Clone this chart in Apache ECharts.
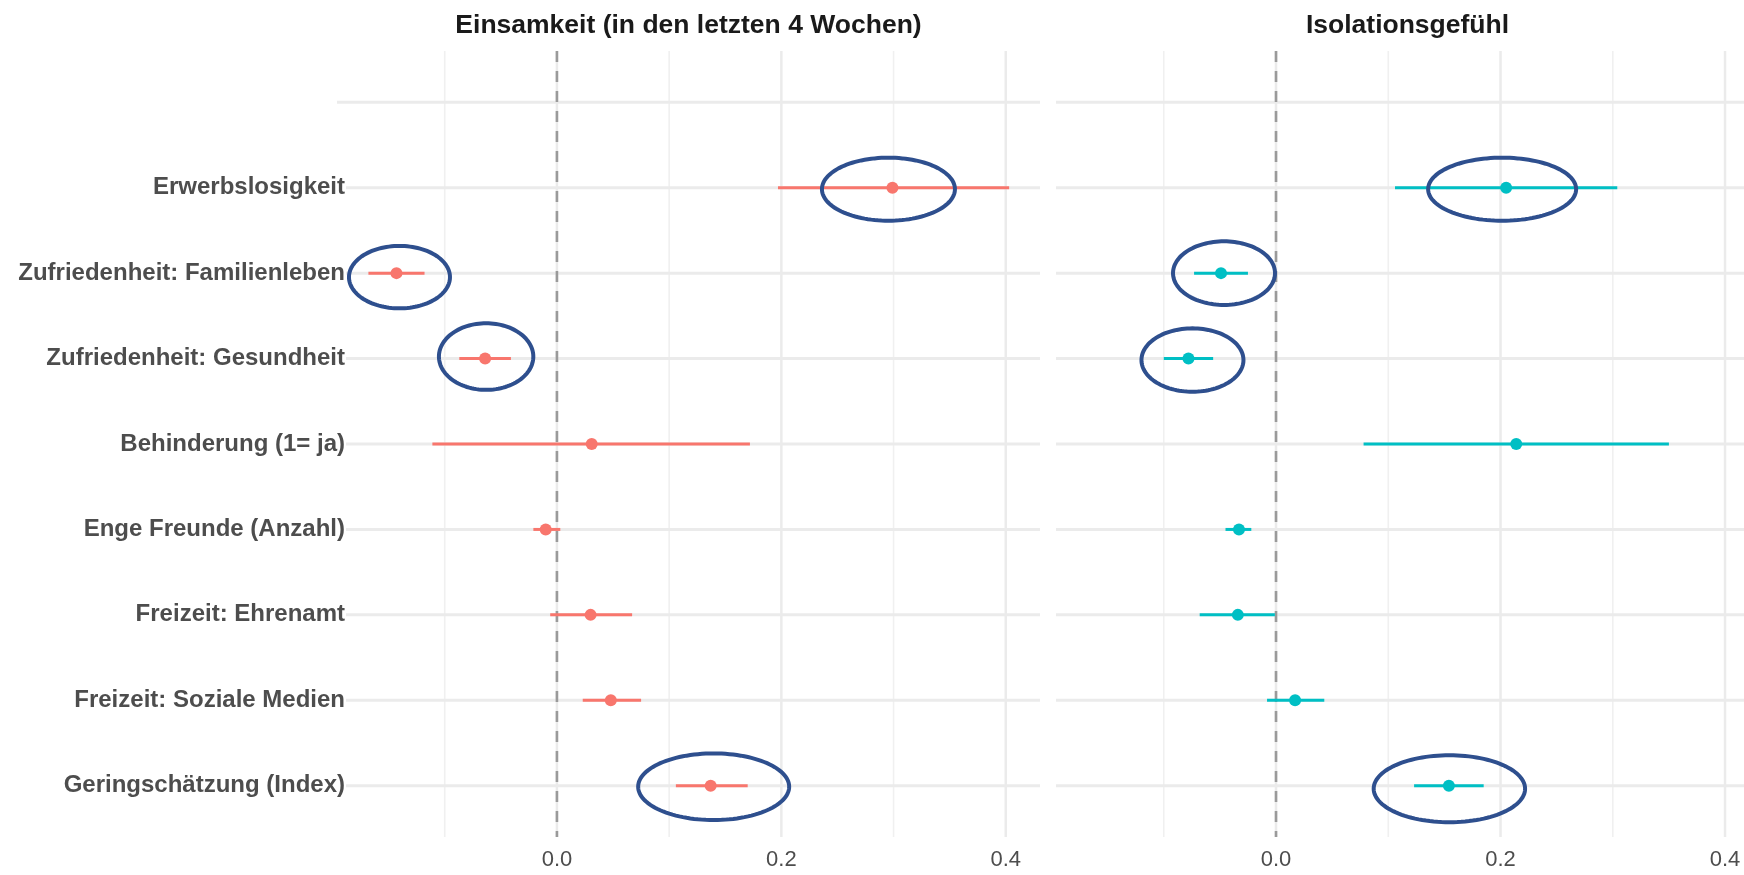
<!DOCTYPE html>
<html>
<head>
<meta charset="utf-8">
<title>Einsamkeit und Isolationsgefühl</title>
<script src="https://cdn.jsdelivr.net/npm/echarts@6/dist/echarts.min.js"></script>
<style>
  html, body { margin: 0; padding: 0; background: #ffffff; }
  #chart { width: 1744px; height: 875px; }
</style>
</head>
<body>
<div id="chart"></div>
<script>
// Predictors, listed top to bottom
const categories = [
  'Erwerbslosigkeit',
  'Zufriedenheit: Familienleben',
  'Zufriedenheit: Gesundheit',
  'Behinderung (1= ja)',
  'Enge Freunde (Anzahl)',
  'Freizeit: Ehrenamt',
  'Freizeit: Soziale Medien',
  'Geringschätzung (Index)'
];

const panelTitles = ['Einsamkeit (in den letzten 4 Wochen)', 'Isolationsgefühl'];

// Coefficients with confidence bounds: Einsamkeit
const einsamkeitEstimate = [0.299, -0.143, -0.064, 0.031, -0.010, 0.030, 0.048, 0.137];
const einsamkeitLower    = [0.197, -0.168, -0.087, -0.111, -0.021, -0.006, 0.023, 0.106];
const einsamkeitUpper    = [0.403, -0.118, -0.041, 0.172, 0.003, 0.067, 0.075, 0.170];

// Coefficients with confidence bounds: Isolationsgefühl
const isolationEstimate = [0.205, -0.049, -0.078, 0.214, -0.033, -0.034, 0.017, 0.154];
const isolationLower    = [0.106, -0.073, -0.100, 0.078, -0.045, -0.068, -0.008, 0.123];
const isolationUpper    = [0.304, -0.025, -0.056, 0.350, -0.022, -0.001, 0.043, 0.185];

// Axis ticks
const xTickLabels = [0, 0.2, 0.4];
const xMinorGrid = [-0.1, 0.1, 0.3];
const xMajorGrid = [0, 0.2, 0.4];

// Predictors circled in both panels
const circled = [
  'Erwerbslosigkeit',
  'Zufriedenheit: Familienleben',
  'Zufriedenheit: Gesundheit',
  'Geringschätzung (Index)'
];

// ---- styling ----
const FONT = "'Liberation Sans', Arial, Helvetica, sans-serif";
const GRID_COLOR = '#EBEBEB';
const TEXT_COLOR = '#4D4D4D';
const RING_COLOR = '#2E4F8E';
const SERIES_COLORS = ['#F8766D', '#00BFC4'];
const X_MIN = -0.196;
// the right panel runs off the page edge, so its visible range stops earlier
const X_MAX = [0.4305, 0.4169];
// ring shape per panel, keyed by predictor: [rx, ry, dx, dy] in pixels
const ringShape = [
  {
    'Erwerbslosigkeit': [66.5, 31.5, -4, 1.5],
    'Zufriedenheit: Familienleben': [50.5, 31.2, 3, 4],
    'Zufriedenheit: Gesundheit': [47.2, 33.3, 1, -2],
    'Geringschätzung (Index)': [75.5, 33.3, 3, 1]
  },
  {
    'Erwerbslosigkeit': [74, 31.5, -4, 1.5],
    'Zufriedenheit: Familienleben': [51, 31.8, 3, 0],
    'Zufriedenheit: Gesundheit': [51, 31.7, 4, 1.5],
    'Geringschätzung (Index)': [75.7, 33.5, 0.5, 3]
  }
];

// row position: slot 0 is an empty row at the top
const rowOf = i => i + 1;
const rowSlots = [0].concat(categories.map((c, i) => rowOf(i)));

const panels = [
  { est: einsamkeitEstimate, lo: einsamkeitLower, hi: einsamkeitUpper },
  { est: isolationEstimate, lo: isolationLower, hi: isolationUpper }
];

const grids = [
  { left: 337, top: 51, width: 703, height: 786 },
  { left: 1056, top: 51, width: 688, height: 786 }
];

const xAxes = grids.map((g, k) => ({
  type: 'value', gridIndex: k, min: X_MIN, max: X_MAX[k],
  axisLine: { show: false }, axisTick: { show: false }, splitLine: { show: false },
  axisLabel: {
    customValues: xTickLabels,
    formatter: v => v.toFixed(1),
    fontFamily: FONT, fontSize: 22, color: TEXT_COLOR, margin: 12
  }
}));

const yAxes = grids.map((g, k) => ({
  type: 'value', gridIndex: k, inverse: true, min: -0.6, max: 8.6, z: 3,
  axisLine: { show: false }, axisTick: { show: false }, splitLine: { show: false },
  axisLabel: k === 0 ? {
    customValues: categories.map((c, i) => rowOf(i)),
    formatter: v => categories[Math.round(v) - 1] || '',
    fontFamily: FONT, fontSize: 24, fontWeight: 'bold', color: TEXT_COLOR,
    margin: -9, backgroundColor: '#ffffff', padding: [2, 1, 2, 0]
  } : { show: false }
}));

const series = [];

panels.forEach((p, k) => {
  // background grid lines
  const gridItems = []
    .concat(xMinorGrid.map(v => [v, 0]))
    .concat(xMajorGrid.map(v => [v, 1]))
    .concat(rowSlots.map(r => [r, 2]));
  series.push({
    type: 'custom', xAxisIndex: k, yAxisIndex: k, z: 1, silent: true,
    data: gridItems,
    renderItem: (params, api) => {
      const cs = params.coordSys;
      const v = api.value(0), kind = api.value(1);
      if (kind === 2) {
        const y = api.coord([X_MIN, v])[1];
        return { type: 'line', shape: { x1: cs.x, y1: y, x2: cs.x + cs.width, y2: y },
          style: { stroke: GRID_COLOR, lineWidth: 3 } };
      }
      const x = api.coord([v, 0])[0];
      return { type: 'line', shape: { x1: x, y1: cs.y, x2: x, y2: cs.y + cs.height },
        style: { stroke: kind === 1 ? GRID_COLOR : '#F0F0F0', lineWidth: kind === 1 ? 2.5 : 1.6 } };
    }
  });

  // dashed reference line at zero
  series.push({
    type: 'custom', xAxisIndex: k, yAxisIndex: k, z: 2, silent: true,
    data: [[0]],
    renderItem: (params, api) => {
      const cs = params.coordSys;
      const x = api.coord([api.value(0), 0])[0];
      return { type: 'line', shape: { x1: x, y1: cs.y, x2: x, y2: cs.y + cs.height },
        style: { stroke: '#9A9A9A', lineWidth: 2.6, lineDash: [11, 9] } };
    }
  });

  // confidence intervals
  series.push({
    type: 'custom', xAxisIndex: k, yAxisIndex: k, z: 4, silent: true,
    data: categories.map((c, i) => [p.lo[i], p.hi[i], rowOf(i)]),
    encode: { x: [0, 1], y: 2 },
    renderItem: (params, api) => {
      const a = api.coord([api.value(0), api.value(2)]);
      const b = api.coord([api.value(1), api.value(2)]);
      return { type: 'line', shape: { x1: a[0], y1: a[1], x2: b[0], y2: b[1] },
        style: { stroke: SERIES_COLORS[k], lineWidth: 3 } };
    }
  });

  // point estimates
  series.push({
    type: 'scatter', xAxisIndex: k, yAxisIndex: k, z: 5, silent: true,
    symbol: 'circle', symbolSize: 12,
    itemStyle: { color: SERIES_COLORS[k], opacity: 1 },
    data: categories.map((c, i) => [p.est[i], rowOf(i)])
  });

  // rings around the highlighted predictors
  series.push({
    type: 'custom', xAxisIndex: k, yAxisIndex: k, z: 6, silent: true,
    data: circled.map(c => {
      const i = categories.indexOf(c);
      return [p.est[i], rowOf(i), i];
    }),
    renderItem: (params, api) => {
      const c = api.coord([api.value(0), api.value(1)]);
      const s = ringShape[k][categories[api.value(2)]];
      const cx = c[0] + s[2], cy = c[1] + s[3];
      const pts = [];
      for (let t = 0; t < 120; t++) {
        const ang = t / 120 * Math.PI * 2;
        pts.push([cx + s[0] * Math.cos(ang), cy + s[1] * Math.sin(ang)]);
      }
      return { type: 'polygon', shape: { points: pts },
        style: { fill: 'none', stroke: RING_COLOR, lineWidth: 4 } };
    }
  });
});

const option = {
  animation: false,
  backgroundColor: '#ffffff',
  title: panelTitles.map((t, k) => ({
    text: t,
    // centred over the full 703 px panel, including the part past the page edge
    left: grids[k].left + 703 / 2,
    top: 12,
    padding: 0,
    textAlign: 'center',
    textStyle: { fontFamily: FONT, fontSize: 26.5, fontWeight: 'bold', color: '#1A1A1A' }
  })),
  grid: grids,
  xAxis: xAxes,
  yAxis: yAxes,
  series: series
};

const chart = echarts.init(document.getElementById('chart'), null, { renderer: 'canvas' });
chart.setOption(option);
</script>
</body>
</html>
